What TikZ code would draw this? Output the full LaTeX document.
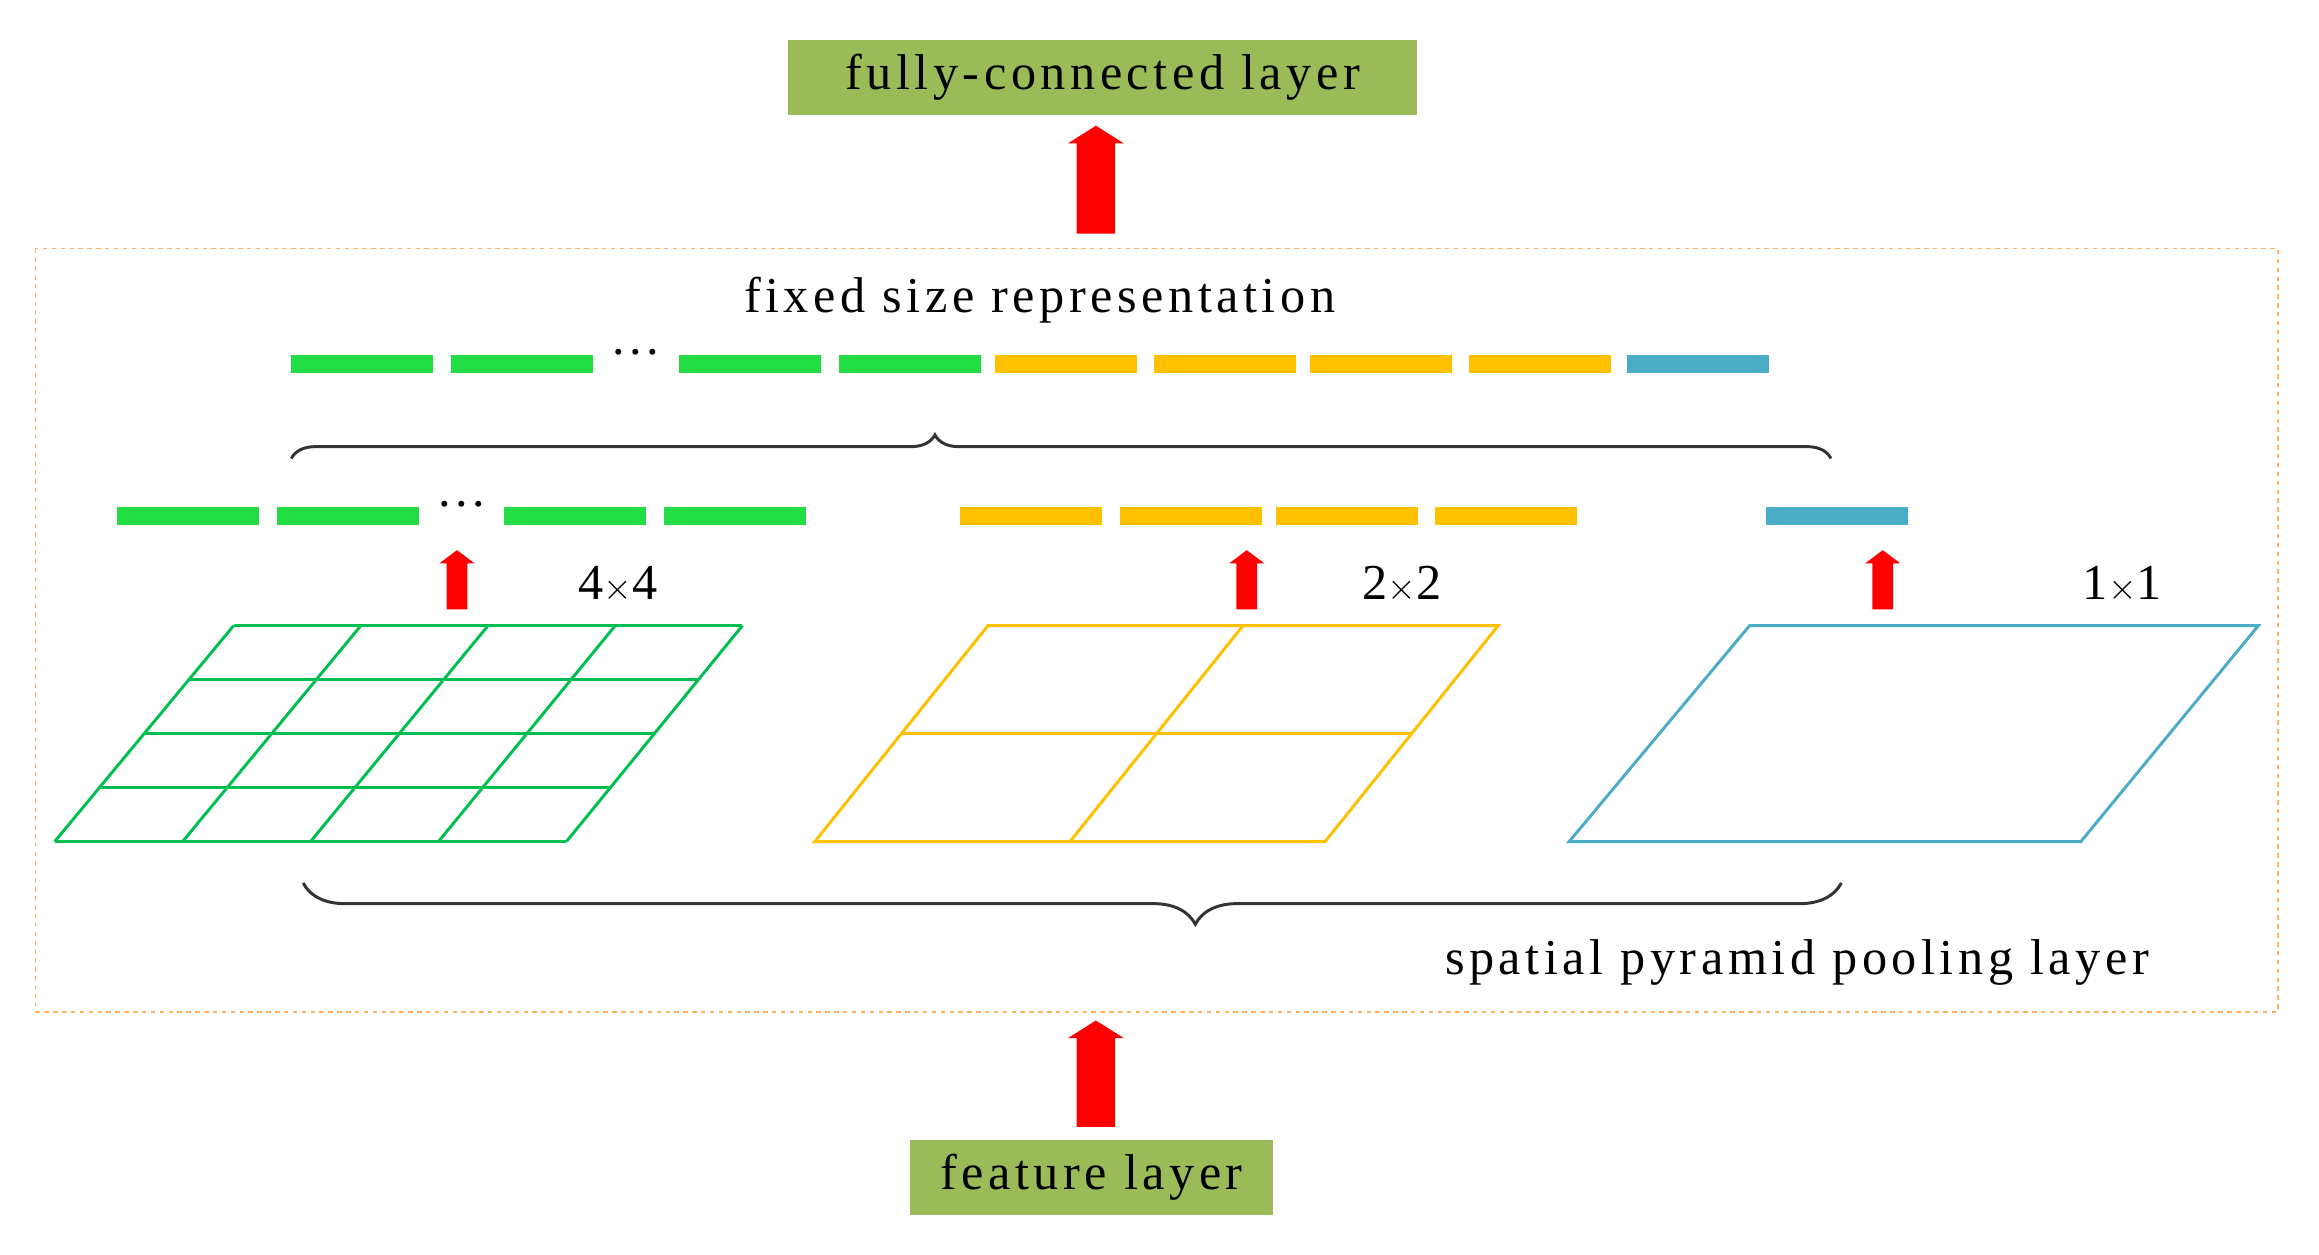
\documentclass[tikz,border=0pt]{standalone}
\usepackage{fontspec}
\setmainfont{Liberation Serif}[LetterSpace=9]
\usetikzlibrary{decorations.pathreplacing,arrows.meta}
\definecolor{gbar}{RGB}{34,221,68}
\definecolor{obar}{RGB}{255,192,0}
\definecolor{bbar}{RGB}{75,172,198}
\definecolor{ggrid}{RGB}{0,190,80}
\definecolor{olive}{RGB}{155,187,89}
\begin{document}
\begin{tikzpicture}[x=1pt,y=-1pt,
  lbl/.style={font=\fontsize{34}{34}\selectfont},
  box/.style={fill=olive,minimum height=51pt,inner sep=0pt,font=\fontsize{34}{34}\selectfont},
  bar/.style={line width=12pt},
  brace/.style={decorate,line width=2pt,draw=black!80}]
\useasboundingbox (0,0) rectangle (1568,848);
\node[box,minimum width=425pt] (fc) at (745.5,52.5) {fully-connected layer};
\node[box,minimum width=246pt] (fl) at (738,796) {feature layer};
\draw[dashed,draw=orange!60,line width=1.2pt] (24,168) rectangle (1540,684);
% arrows: x, tip y, half shaft, base y, half head, head length
\newcommand{\bigarr}[6]{\fill[red] (#1-#3,#4) -- (#1-#3,#2+#6) -- (#1-#5,#2+#6) -- (#1,#2) -- (#1+#5,#2+#6) -- (#1+#3,#2+#6) -- (#1+#3,#4) -- cycle;}
\bigarr{741}{85}{13}{158}{19}{12}
\bigarr{741}{690}{13}{762}{19}{12}
\bigarr{309}{372}{7}{412}{12}{9}
\bigarr{843}{372}{7}{412}{12}{9}
\bigarr{1273}{372}{7}{412}{12}{9}
\node[lbl] (t1) at (703,203) {fixed size representation};
\node[lbl] (t2) at (1215,651) {spatial pyramid pooling layer};
\node[lbl] (l4) at (418,395) {4$\times$4};
\node[lbl] (l2) at (948,395) {2$\times$2};
\node[lbl] (l1) at (1435,395) {1$\times$1};
% top bars
\foreach \a in {197,305,459,567} \draw[bar,gbar] (\a,246) -- ++(96,0);
\foreach \a in {673,780,886,993} \draw[bar,obar] (\a,246) -- ++(96,0);
\draw[bar,bbar] (1100,246) -- ++(96,0);
\node[lbl] (d1) at (430,238) {...};
% second bars
\foreach \a in {79,187,341,449} \draw[bar,gbar] (\a,349) -- ++(96,0);
\foreach \a in {649,757,863,970} \draw[bar,obar] (\a,349) -- ++(96,0);
\draw[bar,bbar] (1194,349) -- ++(96,0);
\node[lbl] (d2) at (312,341) {...};
% braces
\draw[brace,decoration={brace,amplitude=16pt,aspect=0.418}] (197,310) -- (1238,310);
\draw[brace,decoration={brace,amplitude=28pt,aspect=0.42}] (1245,597) -- (205,597);
% grids
\begin{scope}[ggrid,line width=2pt]
\foreach \i in {0,...,4} {
  \draw ({158-121*\i/4},{423+146*\i/4}) -- ({502-119*\i/4},{423+146*\i/4});
  \draw ({158+344*\i/4},423) -- ({37+346*\i/4},569);}
\end{scope}
\begin{scope}[obar,line width=2pt]
\draw (668,423) -- (1013,423) -- (896,569) -- (551,569) -- cycle;
\draw (609.5,496) -- (954.5,496);
\draw (840.5,423) -- (723.5,569);
\end{scope}
\draw[bbar,line width=2pt] (1183,423) -- (1527,423) -- (1407,569) -- (1061,569) -- cycle;
\end{tikzpicture}
\end{document}
